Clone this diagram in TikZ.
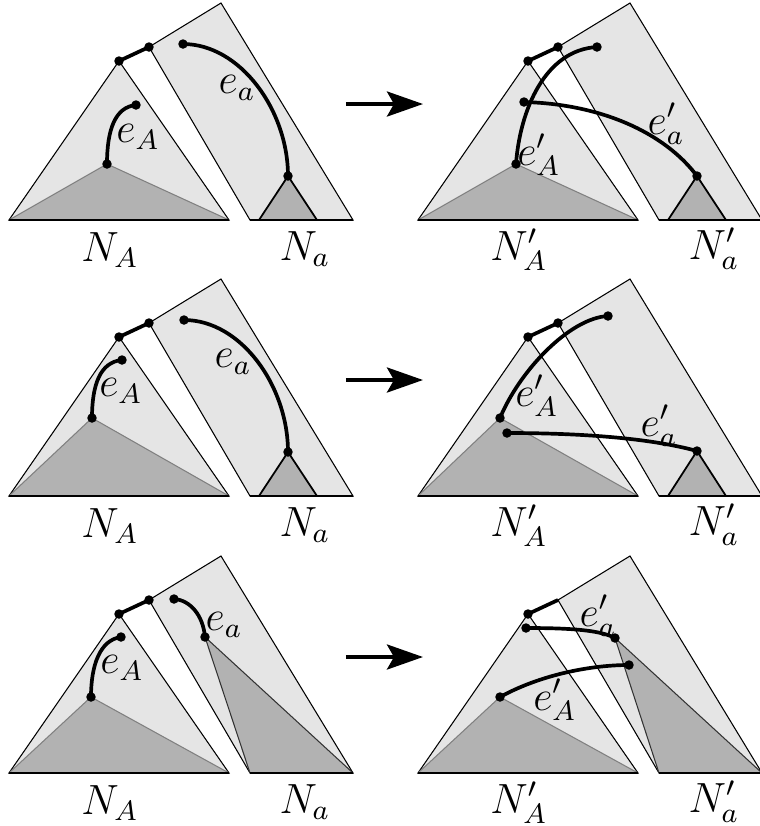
\documentclass[tikz,border=0pt]{standalone}
\usepackage{amsmath}
\usetikzlibrary{arrows.meta}
\tikzset{
  light/.style={fill=black!10,draw=black,line width=0.3pt},
  dark/.style={fill=black!30,draw=black!50,line width=0.3pt},
  leaf/.style={fill=black!30,draw=black,line width=0.5pt},
  base/.style={draw=black,line width=0.3pt},
  edge/.style={line width=1.05pt},
  lab/.style={font=\large,inner sep=0pt},
  move/.style={line width=1.1pt,-{Stealth[length=0.36cm,width=0.25cm,inset=0.07cm]}},
}
% one tree N_A and the strip N_a beside it
\newcommand{\Frame}{%
  \coordinate (T) at (119,61);
  \coordinate (L) at (9,220);
  \coordinate (R) at (229,220);
  \coordinate (P) at (149,47);
  \coordinate (Q) at (221,3);
  \coordinate (U) at (353,220);
  \coordinate (V) at (250,220);
  \draw[light] (T) -- (L) -- (R) -- cycle;% big tree
  \draw[light] (P) -- (Q) -- (U) -- (V) -- cycle;% strip
}
\newcommand{\Names}[1]{%
  \node[lab] (nA) at (110,250) {$N_A#1$};
  \node[lab] (na) at (305,249) {$N_a#1$};
}
\begin{document}
\begin{tikzpicture}[x=0.01cm,y=-0.01cm]
  \useasboundingbox (0,0) rectangle (759,826);
  % first row
  \begin{scope}
    \Frame
    \coordinate (I) at (107,164);
    \coordinate (xA) at (136,105);
    \coordinate (xa) at (183,44);
    \coordinate (S) at (288,176);
    \coordinate (S1) at (259,220);
    \coordinate (S2) at (317,220);
    \draw[dark] (L) -- (I) -- (R);
    \draw[base] (L) -- (R);
    \draw[leaf] (S1) -- (S) -- (S2);
    \draw[base] (V) -- (U);
    \draw[edge] (T) -- (P);
    \draw[edge] (I) .. controls (107,130) and (115,107) .. (xA);
    \draw[edge] (xa) .. controls (240,44) and (288,110) .. (S);
    \foreach \p in {T,P,I,xA,xa,S} \fill (\p) circle (1.35pt);
    \node[lab] (eA) at (138,137) {$e_A$};
    \node[lab] (ea) at (237,88) {$e_a$};
    \Names{}
    \coordinate (m1) at (346,104);
    \coordinate (m2) at (423,104);
    \draw[move] (m1) -- (m2);
  \end{scope}
  \begin{scope}[shift={(409,0)}]
    \Frame
    \coordinate (I) at (107,164);
    \coordinate (xA) at (188,47);
    \coordinate (xa) at (115,102);
    \coordinate (S) at (288,176);
    \coordinate (S1) at (259,220);
    \coordinate (S2) at (317,220);
    \draw[dark] (L) -- (I) -- (R);
    \draw[base] (L) -- (R);
    \draw[leaf] (S1) -- (S) -- (S2);
    \draw[base] (V) -- (U);
    \draw[edge] (T) -- (P);
    \draw[edge] (I) .. controls (111,110) and (136,50) .. (xA);
    \draw[edge] (xa) .. controls (191,104) and (255,132) .. (S);
    \foreach \p in {T,P,I,xA,xa,S} \fill (\p) circle (1.35pt);
    \node[lab] (eA) at (130,155) {$e'_A$};
    \node[lab] (ea) at (257,124) {$e'_a$};
    \Names{'}
  \end{scope}
  % second row
  \begin{scope}[shift={(0,276)}]
    \Frame
    \coordinate (I) at (92,142);
    \coordinate (xA) at (122,84);
    \coordinate (xa) at (184,44);
    \coordinate (S) at (288,176);
    \coordinate (S1) at (259,220);
    \coordinate (S2) at (317,220);
    \draw[dark] (L) -- (I) -- (R);
    \draw[base] (L) -- (R);
    \draw[leaf] (S1) -- (S) -- (S2);
    \draw[base] (V) -- (U);
    \draw[edge] (T) -- (P);
    \draw[edge] (I) .. controls (92,109) and (100,86) .. (xA);
    \draw[edge] (xa) .. controls (241,44) and (288,110) .. (S);
    \foreach \p in {T,P,I,xA,xa,S} \fill (\p) circle (1.35pt);
    \node[lab] (eA) at (121,115) {$e_A$};
    \node[lab] (ea) at (233,86) {$e_a$};
    \Names{}
    \coordinate (m1) at (346,104);
    \coordinate (m2) at (423,104);
    \draw[move] (m1) -- (m2);
  \end{scope}
  \begin{scope}[shift={(409,276)}]
    \Frame
    \coordinate (I) at (91,142);
    \coordinate (xA) at (199,40);
    \coordinate (xa) at (98,157);
    \coordinate (S) at (288,175);
    \coordinate (S1) at (259,220);
    \coordinate (S2) at (317,220);
    \draw[dark] (L) -- (I) -- (R);
    \draw[base] (L) -- (R);
    \draw[leaf] (S1) -- (S) -- (S2);
    \draw[base] (V) -- (U);
    \draw[edge] (T) -- (P);
    \draw[edge] (I) .. controls (111,94) and (161,42) .. (xA);
    \draw[edge] (xa) .. controls (171,157) and (241,162) .. (S);
    \foreach \p in {T,P,I,xA,xa,S} \fill (\p) circle (1.35pt);
    \node[lab] (eA) at (128,120) {$e'_A$};
    \node[lab] (ea) at (250,150) {$e'_a$};
    \Names{'}
  \end{scope}
  % third row
  \begin{scope}[shift={(0,553)}]
    \Frame
    \coordinate (I) at (91,144);
    \coordinate (xA) at (121,84);
    \coordinate (xa) at (174,46);
    \coordinate (S) at (205,84);
    \draw[dark] (L) -- (I) -- (R);
    \draw[base] (L) -- (R);
    \draw[dark,draw=black!80] (V) -- (S) -- (U);
    \draw[base] (V) -- (U);
    \draw[edge] (T) -- (P);
    \draw[edge] (I) .. controls (91,112) and (100,87) .. (xA);
    \draw[edge] (xa) .. controls (190,47) and (203,62) .. (S);
    \foreach \p in {T,P,I,xA,xa,S} \fill (\p) circle (1.35pt);
    \node[lab] (eA) at (122,115) {$e_A$};
    \node[lab] (ea) at (224,72) {$e_a$};
    \Names{}
    \coordinate (m1) at (346,104);
    \coordinate (m2) at (423,104);
    \draw[move] (m1) -- (m2);
  \end{scope}
  \begin{scope}[shift={(409,553)}]
    \Frame
    \coordinate (I) at (91,144);
    \coordinate (xA) at (220,112);
    \coordinate (xa) at (117,75);
    \coordinate (S) at (206,85);
    \draw[dark] (L) -- (I) -- (R);
    \draw[base] (L) -- (R);
    \draw[dark,draw=black!80] (V) -- (S) -- (U);
    \draw[base] (V) -- (U);
    \draw[edge] (T) -- (P);
    \draw[edge] (xa) .. controls (161,75) and (191,77) .. (S);
    \draw[edge] (I) .. controls (131,122) and (181,112) .. (xA);
    \foreach \p in {T,I,xA,xa,S} \fill (\p) circle (1.35pt);
    \node[lab] (ea) at (189,63) {$e'_a$};
    \node[lab] (eA) at (146,147) {$e'_A$};
    \Names{'}
  \end{scope}
\end{tikzpicture}
\end{document}
